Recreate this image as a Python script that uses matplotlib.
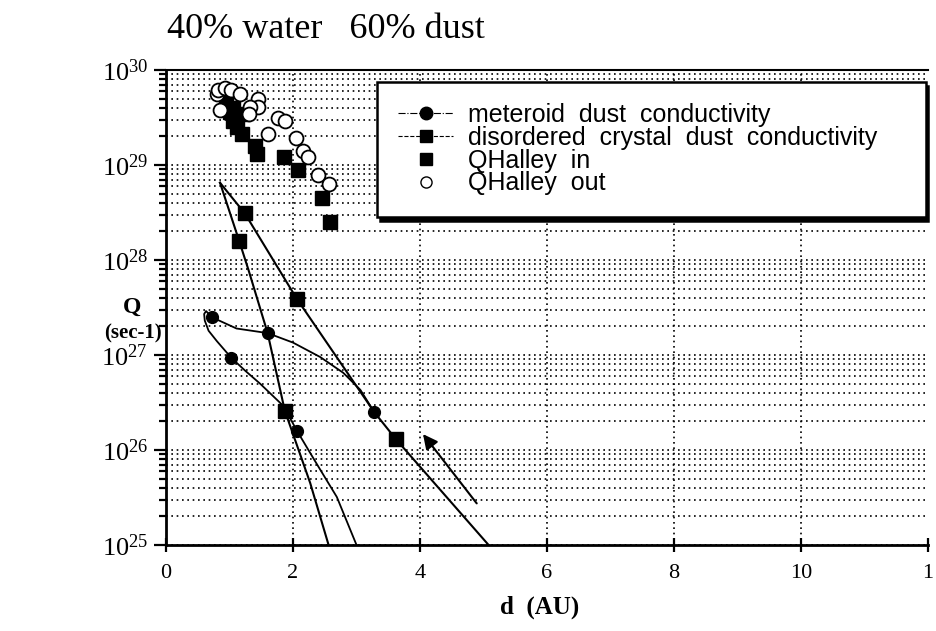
import matplotlib.pyplot as plt
from matplotlib.lines import Line2D
from matplotlib.ticker import LogLocator, NullFormatter

plt.rcParams['font.family'] = 'Liberation Serif'
plt.rcParams['mathtext.fontset'] = 'stix'

# QHalley measurements (d in AU, Q in sec-1)
halley_out_d = [0.80, 0.82, 0.93, 1.03, 1.17, 0.85, 1.45, 1.45, 1.32, 1.30, 1.61,
                1.77, 1.87, 2.04, 2.16, 2.24, 2.40, 2.57]
halley_out_q = [5.6e29, 6.2e29, 6.5e29, 6.2e29, 5.6e29, 3.8e29, 5.0e29, 4.1e29, 4.1e29,
                3.4e29, 2.1e29, 3.1e29, 2.9e29, 1.9e29, 1.4e29, 1.2e29, 7.8e28, 6.3e28]
halley_in_d = [0.95, 1.05, 1.01, 1.06, 1.11, 1.19, 1.21, 1.40, 1.43, 1.85, 2.08, 2.45, 2.58]
halley_in_q = [4.8e29, 4.0e29, 3.6e29, 2.9e29, 2.5e29, 2.1e29, 3.4e29, 1.6e29, 1.3e29,
               1.2e29, 8.9e28, 4.5e28, 2.5e28]

# model curves, disordered crystal dust conductivity (two branches)
crystal_a_d = [0.85, 1.24, 2.06, 3.28, 3.62, 5.08]
crystal_a_q = [6.5e28, 3.1e28, 3.9e27, 2.5e26, 1.3e26, 1.0e25]
crystal_b_d = [0.85, 1.15, 1.30, 1.60, 1.87, 2.27, 2.56]
crystal_b_q = [6.5e28, 1.6e28, 7.8e27, 1.7e27, 2.6e26, 4.5e25, 1.0e25]
crystal_pts_d = [1.15, 1.24, 2.06, 1.87, 3.62]
crystal_pts_q = [1.6e28, 3.1e28, 3.9e27, 2.6e26, 1.3e26]

# meteroid dust conductivity (loop curve)
meteor_d = [3.28, 3.06, 2.79, 2.43, 2.00, 1.60, 1.11, 0.72, 0.63, 0.60, 0.61, 0.67,
            0.80, 1.03, 1.25, 1.48, 1.85, 2.06, 2.37, 2.69, 3.00]
meteor_q = [2.5e26, 4.3e26, 6.5e26, 9.5e26, 1.35e27, 1.7e27, 1.9e27, 2.5e27, 2.9e27,
            2.7e27, 2.3e27, 1.8e27, 1.4e27, 9.3e26, 6.8e26, 5.0e26, 2.9e26, 1.6e26,
            7.2e25, 3.2e25, 1.0e25]
meteor_pts_d = [0.72, 1.03, 1.60, 2.06, 3.28]
meteor_pts_q = [2.5e27, 9.3e26, 1.7e27, 1.6e26, 2.5e26]

arrow_tail = (4.92, 2.6e25)
arrow_head = (4.02, 1.55e26)

xticks = [0, 2, 4, 6, 8, 10, 12]
xlabels = ['0', '2', '4', '6', '8', '10', '1']
yticks = [1e25, 1e26, 1e27, 1e28, 1e29, 1e30]
ylabels = [r'$\mathregular{10^{%d}}$' % e for e in range(25, 31)]

fig = plt.figure(figsize=(9.36, 6.31), dpi=100)
ax = fig.add_axes([0.1774, 0.1363, 0.814, 0.7528])

ax.plot(crystal_a_d, crystal_a_q, color='k', lw=1.5)
ax.plot(crystal_b_d, crystal_b_q, color='k', lw=1.5)
ax.plot(meteor_d, meteor_q, color='k', lw=1.3)
ax.plot(crystal_pts_d, crystal_pts_q, 's', color='k', ms=9.5)
ax.plot(meteor_pts_d, meteor_pts_q, 'o', color='k', ms=8.5)
ax.plot(halley_in_d, halley_in_q, 's', color='k', ms=9.5)
ax.plot(halley_out_d, halley_out_q, 'o', mfc='white', mec='k', mew=1.3, ms=10)

ax.annotate('', xy=arrow_head, xytext=arrow_tail,
            arrowprops=dict(arrowstyle='-|>', color='k', lw=1.5, mutation_scale=22))

ax.set_yscale('log')
ax.set_xlim(0, 12)
ax.set_ylim(1e25, 1e30)
ax.set_xticks(xticks)
ax.set_xticklabels(xlabels, fontsize=16)
ax.set_yticks(yticks)
ax.set_yticklabels(ylabels, fontsize=19)
ax.yaxis.set_minor_locator(LogLocator(base=10, subs=range(2, 10), numticks=20))
ax.yaxis.set_minor_formatter(NullFormatter())

dots = (0, (1, 2.2))
ax.yaxis.grid(True, which='both', linestyle=dots, color='k', lw=1.2)
ax.xaxis.grid(True, which='major', linestyle=dots, color='k', lw=1.2)
ax.xaxis.get_gridlines()[0].set_visible(False)
ax.xaxis.get_gridlines()[-1].set_visible(False)
ax.set_axisbelow(True)

ax.tick_params(axis='y', which='major', direction='out', length=9, width=1.6, pad=4)
ax.tick_params(axis='y', which='minor', direction='out', length=5, width=1.6)
ax.tick_params(axis='x', direction='inout', length=10, width=1.6, pad=9)

for side in ['left', 'bottom']:
    ax.spines[side].set_linewidth(2)
ax.spines['right'].set_visible(False)
ax.spines['top'].set_linewidth(1.5)

handles = [
    Line2D([], [], color='k', lw=0.8, ls='-.', marker='o', ms=9),
    Line2D([], [], color='k', lw=0.8, ls='--', marker='s', ms=9),
    Line2D([], [], color='k', ls='none', marker='s', ms=9),
    Line2D([], [], color='k', ls='none', marker='o', mfc='white', ms=8),
]
labels = ['meteroid  dust  conductivity',
          'disordered  crystal  dust  conductivity',
          'QHalley  in',
          'QHalley  out']
leg = ax.legend(handles, labels, loc='upper left', mode='expand',
                bbox_to_anchor=(0.277, 0.69, 0.72, 0.285),
                prop={'family': 'Liberation Sans', 'size': 18}, frameon=True,
                fancybox=False, edgecolor='k', framealpha=1, labelspacing=-0.05,
                handlelength=2.2, handletextpad=0.6, borderpad=0.85, borderaxespad=0.0,
                shadow={'color': 'k', 'alpha': 1, 'ox': 2, 'oy': -3})
leg.get_frame().set_linewidth(1.8)

fig.text(167 / 936, 1 - 30 / 631, '40% water   60% dust', fontsize=26,
         ha='left', va='center')
fig.text(132 / 936, 1 - 307 / 631, 'Q', fontsize=17, fontweight='bold',
         ha='center', va='center')
fig.text(133 / 936, 1 - 333 / 631, '(sec-1)', fontsize=15, fontweight='bold',
         ha='center', va='center')
fig.text(540 / 936, 1 - 607 / 631, 'd  (AU)', fontsize=18, fontweight='bold',
         ha='center', va='center')

fig.savefig('out.png', dpi=100)
